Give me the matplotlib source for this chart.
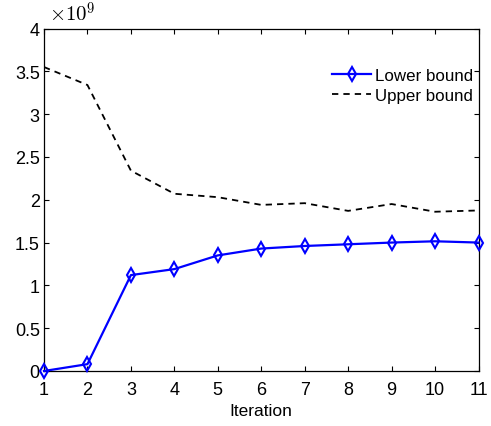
import numpy as np
import matplotlib.pyplot as plt

plt.rcParams['font.family'] = ['Liberation Sans', 'DejaVu Sans']
plt.rcParams['mathtext.fontset'] = 'cm'

# ============
#  DATA
# ============
iterations = np.arange(1, 12)
lower_bound = [0.0, 0.08, 1.12, 1.19, 1.35, 1.43, 1.46, 1.48, 1.50, 1.515, 1.50]
upper_bound = [3.55, 3.34, 2.34, 2.07, 2.03, 1.94, 1.96, 1.87, 1.95, 1.86, 1.875]

fig = plt.figure(figsize=(4.91, 4.27), dpi=100)
ax = fig.add_axes([44 / 491, 1 - 372 / 427, 434.5 / 491, 342.5 / 427])

ax.plot(iterations, np.array(lower_bound), color='#0000ff', lw=1.6,
        marker='d', markersize=7.5, markerfacecolor='none',
        markeredgewidth=1.5, label='Lower bound', clip_on=False, zorder=3)
ax.plot(iterations, np.array(upper_bound), color='black', lw=1.3,
        dashes=(3.5, 2.8), label='Upper bound')

ax.set_xlim(1, 11)
ax.set_ylim(0, 4)
ax.set_xticks(iterations)
ax.set_yticks([0, 0.5, 1, 1.5, 2, 2.5, 3, 3.5, 4])
ax.set_yticklabels(['0', '0.5', '1', '1.5', '2', '2.5', '3', '3.5', '4'])
ax.tick_params(direction='in', top=True, right=True, length=3.5,
               width=0.8, labelsize=13, pad=3)
ax.tick_params(axis='x', pad=7)
for s in ax.spines.values():
    s.set_linewidth(0.9)

ax.set_xlabel('Iteration', fontsize=12.5, labelpad=4)
ax.text(0.012, 1.022, r'$\times10^{9}$', transform=ax.transAxes,
        fontsize=15, ha='left', va='baseline')

leg = ax.legend(loc='upper right', bbox_to_anchor=(1.01, 0.915), frameon=False,
                fontsize=12.2, handlelength=2.3, handletextpad=0.2,
                labelspacing=0.3, borderaxespad=0.2)

fig.savefig('out.png', dpi=100)
